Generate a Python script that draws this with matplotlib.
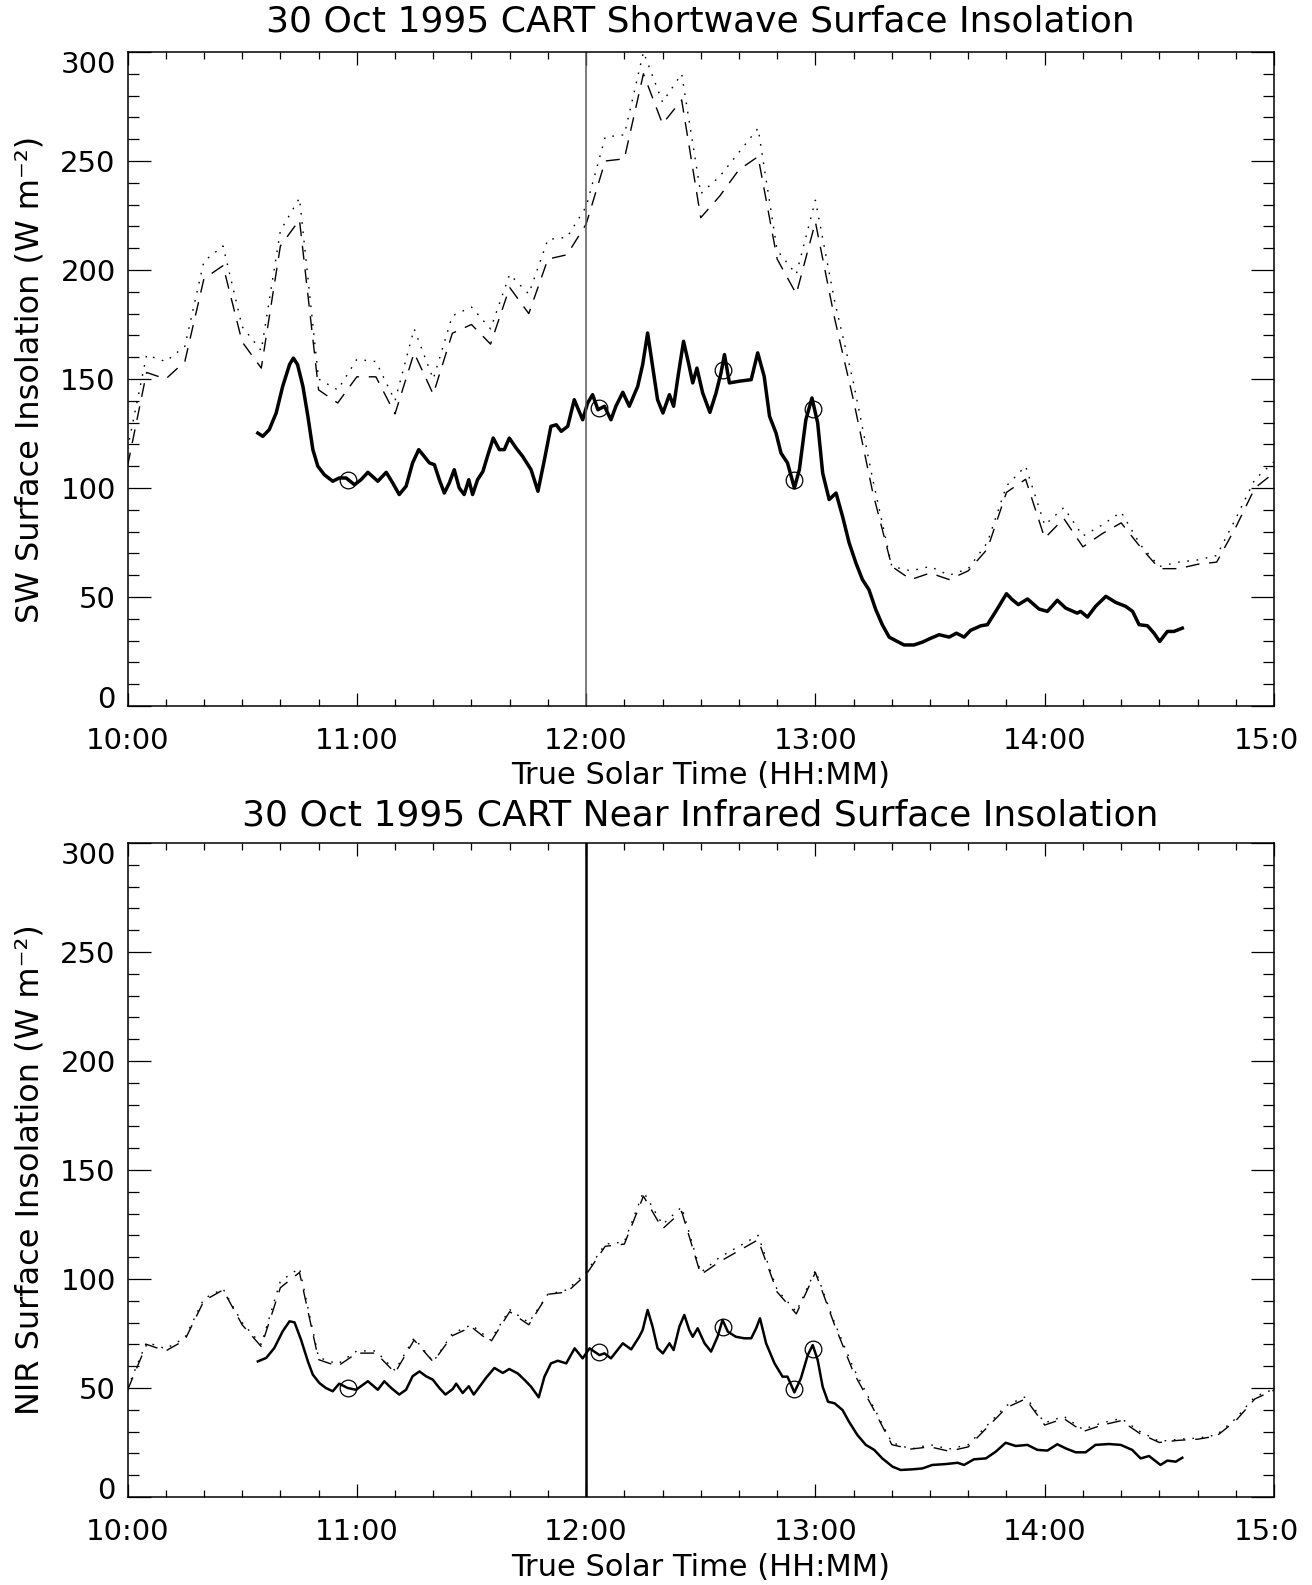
import matplotlib
matplotlib.use("Agg")
import matplotlib.pyplot as plt
import matplotlib.transforms as mtrans
from matplotlib.ticker import MultipleLocator, FixedLocator, FixedFormatter

plt.rcParams['font.family'] = ['DejaVu Sans']

# ---------------- data ----------------
# model times: minutes after 10:00, every 5 minutes
model_min = list(range(0, 301, 5))

sw_model_dotted = [118, 161, 158, 165, 204, 211, 174, 163, 218, 233,
                   150, 145, 159, 158, 140, 173, 150, 179, 183, 173,
                   198, 189, 214, 215, 229, 261, 262, 300, 277, 290,
                   235, 243, 254, 265, 209, 198, 232, 186, 148, 104,
                   64, 62, 64, 60, 63, 75, 101, 110, 83, 91,
                   78, 83, 89, 74, 64, 66, 67, 69, 86, 104, 112]
sw_model_dashed = [110, 153, 150, 158, 196, 202, 167, 155, 211, 223,
                   145, 139, 151, 151, 134, 162, 143, 171, 175, 166,
                   192, 180, 205, 207, 221, 250, 251, 290, 267, 278,
                   224, 234, 246, 252, 205, 189, 222, 178, 140, 98,
                   64, 58, 61, 58, 62, 72, 98, 104, 77, 86,
                   73, 79, 84, 73, 63, 63, 65, 66, 82, 100, 107]

nir_model_dotted = [50, 71, 68, 73, 91, 95.5, 80, 70, 99, 105,
                    64, 61, 67, 67, 58, 73, 62, 75, 79, 72,
                    86, 80, 93, 95, 103, 116, 117, 140, 125, 133,
                    103, 110, 115, 120, 95, 85, 104, 80, 59, 42,
                    25, 22, 24, 22, 24, 33, 42, 46, 34, 37,
                    31, 34, 36, 30, 25.5, 26.5, 27, 28.5, 36, 46, 49.5]
nir_model_dashed = [49, 70, 67, 72, 90, 95, 79, 69, 96, 103,
                    63, 60, 66, 66, 57, 72, 62, 74, 78, 71,
                    85, 79, 93, 94, 102, 115, 116, 138, 123, 131,
                    102, 108, 113, 118, 94, 84, 103, 79, 57, 41,
                    24, 22, 23, 21, 23, 32, 41, 45, 33, 36,
                    30, 33, 35, 29, 25, 26, 26.5, 28, 35, 45, 49]

sw_obs_min = [34.1, 35.4, 37.1, 38.9, 40.6, 42.4, 43.4, 44.5, 45.9, 47.2,
              48.5, 49.8, 51.5, 53.7, 55.4, 57.2, 59.4, 61.1, 62.9, 65.5,
              67.7, 69.4, 71.1, 72.9, 74.6, 76.2, 77.6, 79.0, 80.3, 81.6,
              82.9, 84.2, 85.5, 86.8, 88.1, 89.3, 90.3, 91.6, 93.0, 94.2,
              95.7, 97.3, 98.6, 99.9, 101.7, 103.4, 105.6, 107.4, 109.1, 110.8,
              112.2, 113.5, 115.2, 116.9, 119.1, 120.4, 121.7, 123.1, 124.8, 126.5,
              127.8, 129.6, 131.3, 133.5, 134.8, 136.1, 137.4, 138.7, 140.1, 141.8,
              142.9, 144.2, 145.5, 146.8, 147.9, 149.0, 150.5, 152.4, 154.0, 155.3,
              156.2, 157.5, 160.1, 163.2, 164.9, 166.6, 168.0, 169.7, 171.0, 172.7,
              174.5, 175.8, 177.5, 179.1, 180.6, 181.9, 183.6, 185.4, 187.1, 188.8,
              190.6, 192.3, 194.0, 195.8, 197.5, 199.3, 201.0, 203.2, 205.8, 208.0,
              210.2, 212.4, 215.0, 216.9, 218.9, 220.6, 223.3, 225.0, 227.2, 230.0,
              231.5, 233.1, 235.5, 238.5, 240.7, 243.3, 245.5, 248.5, 249.4, 251.2,
              253.3, 256.0, 258.6, 261.2, 263.0, 264.7, 266.9, 268.6, 270.1, 272.1,
              273.8, 276.0]
sw_obs_val = [125.2, 123.7, 126.8, 134.4, 146.6, 156.6, 159.6, 156.6, 146.6, 132.9,
              117.6, 110.0, 106.1, 103.1, 104.6, 104.6, 101.5, 103.8, 107.2, 103.1,
              107.2, 102.3, 97.0, 100.8, 111.5, 117.6, 114.6, 111.5, 110.7, 103.8,
              97.7, 102.3, 108.4, 100.0, 97.0, 103.8, 97.0, 103.8, 107.6, 114.6,
              122.9, 117.6, 117.6, 122.9, 118.3, 114.5, 108.4, 98.5, 113.0, 128.3,
              129.0, 126.0, 128.3, 140.5, 131.3, 139.0, 142.8, 135.9, 137.5, 131.3,
              137.5, 143.9, 137.5, 146.6, 156.6, 171.1, 155.8, 140.5, 134.4, 142.8,
              137.5, 152.8, 167.3, 157.3, 148.2, 155.0, 143.6, 134.7, 143.6, 152.8,
              161.2, 148.2, 149.0, 149.7, 162.0, 151.2, 132.9, 125.2, 116.0, 111.5,
              100.0, 108.4, 131.3, 141.3, 129.8, 106.9, 94.7, 97.7, 87.0, 75.0,
              65.6, 58.0, 53.4, 44.2, 37.3, 31.6, 30.0, 28.0, 28.0, 29.3,
              31.1, 32.7, 31.6, 33.4, 31.6, 34.7, 36.8, 37.3, 43.4, 51.5,
              48.8, 46.5, 49.1, 44.5, 43.4, 48.5, 44.9, 42.6, 43.4, 40.8,
              45.7, 50.3, 47.5, 45.7, 43.4, 37.3, 36.8, 33.4, 29.6, 34.2,
              34.2, 35.7]

nir_obs_min = [34.1, 36.3, 38.4, 40.6, 42.4, 43.7, 45.4, 47.2, 48.5, 50.2,
               51.9, 53.7, 55.4, 57.6, 59.8, 62.9, 65.5, 67.2, 69.0, 71.1,
               72.9, 74.6, 76.4, 78.1, 79.9, 81.6, 83.2, 85.1, 86.0, 87.7,
               89.3, 90.6, 92.5, 93.8, 96.0, 98.2, 99.9, 102.1, 103.9, 105.6,
               107.6, 109.1, 110.8, 112.6, 114.8, 117.0, 119.1, 120.9, 123.5, 124.8,
               126.5, 129.6, 131.8, 133.9, 134.8, 136.1, 137.4, 138.7, 140.1, 141.8,
               142.9, 144.4, 145.7, 147.0, 147.9, 149.2, 151.0, 152.7, 154.4, 155.7,
               157.1, 159.2, 161.4, 163.2, 164.5, 165.5, 167.1, 169.3, 171.4, 172.7,
               174.5, 176.2, 178.0, 179.3, 180.6, 181.9, 183.3, 185.0, 187.1, 188.8,
               191.0, 193.2, 195.4, 197.5, 200.2, 202.3, 205.4, 208.0, 210.6, 214.1,
               217.2, 218.9, 221.5, 224.6, 227.2, 229.8, 232.4, 235.5, 238.1, 240.7,
               243.3, 245.5, 248.1, 250.7, 253.3, 256.8, 259.9, 262.9, 265.1, 267.3,
               270.3, 272.1, 274.3, 276.0]
nir_obs_val = [62.2, 63.8, 68.3, 76.0, 80.6, 80.1, 72.2, 62.2, 56.1, 52.3,
               50.0, 48.5, 52.0, 50.0, 49.2, 53.1, 49.2, 53.1, 50.0, 47.0,
               49.2, 55.4, 57.6, 55.4, 53.8, 50.0, 47.0, 49.5, 52.0, 47.7,
               50.8, 47.0, 51.5, 54.6, 59.2, 56.9, 58.7, 56.7, 53.7, 50.6,
               45.7, 55.2, 61.3, 62.5, 61.3, 68.2, 63.6, 68.2, 65.1, 65.9,
               63.6, 70.5, 67.7, 73.5, 76.6, 85.8, 78.1, 68.2, 65.9, 70.5,
               67.4, 78.1, 83.5, 76.6, 73.5, 77.4, 70.5, 66.7, 73.5, 81.2,
               75.8, 73.5, 72.8, 72.8, 77.4, 82.0, 70.5, 61.3, 55.2, 55.2,
               48.0, 54.4, 65.1, 69.7, 62.8, 50.6, 43.7, 43.0, 39.9, 34.5,
               28.4, 23.9, 21.6, 17.7, 13.9, 12.4, 12.7, 13.1, 14.7, 15.1,
               15.7, 14.7, 17.3, 17.7, 20.8, 24.9, 23.4, 23.9, 21.6, 21.3,
               24.2, 22.3, 20.5, 20.5, 23.9, 24.3, 23.9, 21.6, 17.7, 18.8,
               14.7, 16.7, 16.2, 18.0]

circle_min = [57.6, 123.3, 155.7, 174.5, 179.5]
sw_circle_val = [103.8, 136.7, 154.3, 103.8, 136.2]
nir_circle_val = [50.0, 66.5, 78.0, 49.5, 67.7]

xtick_pos = [10, 11, 12, 13, 14, 15]
xtick_labels = ["10:00", "11:00", "12:00", "13:00", "14:00", "15:0"]
ytick_pos = [0, 50, 100, 150, 200, 250, 300]
ytick_labels = ["0", "50", "100", "150", "200", "250", "300"]
titles = ["30 Oct 1995 CART Shortwave Surface Insolation",
          "30 Oct 1995 CART Near Infrared Surface Insolation"]
ylabels = ["SW Surface Insolation (W m\u207b\u00b2)",
           "NIR Surface Insolation (W m\u207b\u00b2)"]
xlabel = "True Solar Time (HH:MM)"


def hours(mins):
    return [10 + m / 60.0 for m in mins]


# ---------------- figure ----------------
W, H = 1312, 1585
fig = plt.figure(figsize=(W / 100, H / 100), dpi=100)

left_px, right_px = 127.5, 1274
panels = [(52, 706), (843, 1497)]

panel_data = [
    (sw_model_dotted, sw_model_dashed, sw_obs_val, sw_obs_min, sw_circle_val, 2.5, '0.35', 1.1),
    (nir_model_dotted, nir_model_dashed, nir_obs_val, nir_obs_min, nir_circle_val, 1.8, 'black', 1.8),
]

FS = 21
for i, ((top_px, bot_px), (mdot, mdash, obs, obs_t, circ, obs_lw, vcol, vlw)) in enumerate(zip(panels, panel_data)):
    ax = fig.add_axes([left_px / W, 1 - bot_px / H,
                       (right_px - left_px) / W, (bot_px - top_px) / H])
    ax.plot(hours(model_min), mdot, color='black', lw=1.0, ls=(0, (1.2, 5.5)))
    ax.plot(hours(model_min), mdash, color='black', lw=1.0, ls=(0, (10, 7)))
    ax.plot(hours(obs_t), obs, color='black', lw=obs_lw, solid_joinstyle='round')
    ax.plot(hours(circle_min), circ, ls='none', marker='o', ms=12, mfc='none',
            mec='black', mew=0.9)
    ax.axvline(12, color=vcol, lw=vlw)

    ax.set_xlim(10, 15)
    ax.set_ylim(0, 300)
    ax.xaxis.set_major_locator(FixedLocator(xtick_pos))
    ax.xaxis.set_major_formatter(FixedFormatter(xtick_labels))
    ax.xaxis.set_minor_locator(MultipleLocator(1 / 6))
    ax.yaxis.set_major_locator(FixedLocator(ytick_pos))
    ax.yaxis.set_major_formatter(FixedFormatter(ytick_labels))
    ax.yaxis.set_minor_locator(MultipleLocator(10))

    for sp in ax.spines.values():
        sp.set_linewidth(1.1)
    ax.tick_params(axis='x', which='major', direction='in', length=9.4, width=0.9,
                   top=True, bottom=True, labelsize=FS, pad=15)
    ax.tick_params(axis='x', which='minor', direction='in', length=4.7, width=0.9,
                   top=True, bottom=True)
    ax.tick_params(axis='y', which='major', direction='in', length=16.3, width=0.9,
                   left=True, right=True, labelsize=FS, pad=8.5)
    ax.tick_params(axis='y', which='minor', direction='in', length=8.2, width=0.9,
                   left=True, right=True)

    # IDL-style placement of end labels
    ylabs = ax.get_yticklabels()
    ylabs[0].set_transform(ylabs[0].get_transform() +
                           mtrans.ScaledTranslation(0, 0.09, fig.dpi_scale_trans))
    ylabs[-1].set_transform(ylabs[-1].get_transform() +
                            mtrans.ScaledTranslation(0, -0.10, fig.dpi_scale_trans))
    xlabs = ax.get_xticklabels()
    xlabs[-1].set_transform(xlabs[-1].get_transform() +
                            mtrans.ScaledTranslation(-0.08, 0, fig.dpi_scale_trans))

    h = bot_px - top_px
    title_y = 22 if i == 0 else 815
    ax.set_title(titles[i], fontsize=26, y=1 + (top_px - title_y) / h, va='center', pad=0)
    ax.set_xlabel(xlabel, fontsize=22)
    xl_y = 776 if i == 0 else 1567
    ax.xaxis.set_label_coords(0.5, -(xl_y - bot_px) / h)
    ax.xaxis.label.set_va('center')
    ax.set_ylabel(ylabels[i], fontsize=23)
    ax.yaxis.set_label_coords((30 - left_px) / (right_px - left_px), 0.5)
    ax.yaxis.label.set_va('center')

fig.savefig("out.png", dpi=100)
